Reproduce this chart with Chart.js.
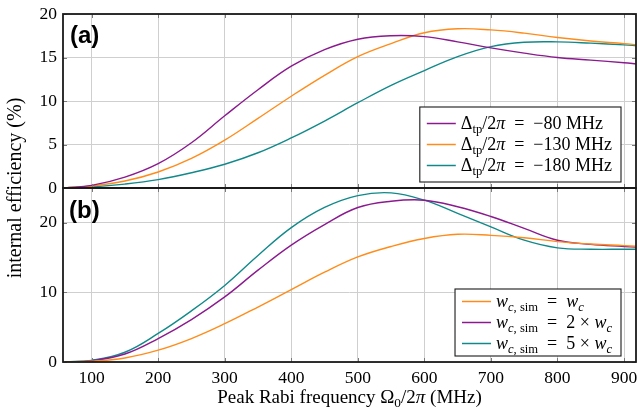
<!DOCTYPE html>
<html><head><meta charset="utf-8">
<script src="https://cdn.jsdelivr.net/npm/chart.js@4.4.1/dist/chart.umd.min.js"></script>
<style>html,body{margin:0;padding:0;background:#fff}#wrap{width:637px;height:410px}</style>
</head><body><div id="wrap"><canvas id="c" width="637" height="410"></canvas></div>
<script>
// ---------- data ----------
const freq = [60,100,150,200,250,300,350,400,450,500,550,600,650,700,750,800,850,900,920];
// panel (a): internal efficiency (%) for different detunings
const effA_80  = [0.02,0.30,1.25,2.80,5.20,8.30,11.30,14.00,15.90,17.10,17.50,17.40,16.80,16.10,15.50,15.00,14.70,14.40,14.25];
const effA_130 = [0.02,0.23,0.80,1.84,3.40,5.50,8.00,10.55,12.95,15.10,16.60,17.85,18.30,18.17,17.80,17.30,16.90,16.60,16.45];
const effA_180 = [0.01,0.12,0.45,0.96,1.75,2.73,4.05,5.76,7.70,9.80,11.80,13.50,15.10,16.25,16.75,16.80,16.65,16.45,16.35];
// panel (b): internal efficiency (%) for different simulated widths
const effB_1x  = [0.02,0.10,0.58,1.70,3.37,5.50,7.90,10.40,12.90,15.10,16.60,17.75,18.35,18.20,17.85,17.30,16.95,16.72,16.62];
const effB_2x  = [0.02,0.20,1.15,3.37,6.10,9.35,13.20,16.80,19.75,22.20,23.10,23.25,22.30,20.90,19.20,17.50,16.90,16.60,16.50];
const effB_5x  = [0.02,0.24,1.40,4.10,7.35,11.00,15.30,19.30,22.20,23.90,24.30,23.25,21.35,19.40,17.50,16.40,16.20,16.20,16.20];

const xTicks  = [100,200,300,400,500,600,700,800,900];
const yTicksA = [0,5,10,15,20];
const yTicksB = [0,10,20];
const xRange  = [57,918];
const yRangeA = [0,20];
const yRangeB = [0,25];

const namesA  = ['Δtp/2π = −80 MHz','Δtp/2π = −130 MHz','Δtp/2π = −180 MHz'];
const legendA = ['Δ_{tp}/2*π*\u2002=\u2002−80 MHz','Δ_{tp}/2*π*\u2002=\u2002−130 MHz','Δ_{tp}/2*π*\u2002=\u2002−180 MHz'];
const namesB  = ['w_c,sim = w_c','w_c,sim = 2 × w_c','w_c,sim = 5 × w_c'];
const legendB = ['*w*_{*c*, sim}\u2002=\u2002*w*_{*c*}','*w*_{*c*, sim}\u2002=\u20022 × *w*_{*c*}','*w*_{*c*, sim}\u2002=\u20025 × *w*_{*c*}'];
const xTitle = 'Peak Rabi frequency Ω_{0}/2*π* (MHz)';
const yTitle = 'internal efficiency (%)';
const panelLabels = ['(a)','(b)'];

// ---------- styles ----------
const PURPLE = '#8a1a8e', ORANGE = '#ff8c1a', TEAL = '#11898a';
const SERIF = '"Liberation Serif", "Times New Roman", serif';
const TICK_SIZE = 17.5;

function xy(arr){ return freq.map((x,i)=>({x, y: arr[i]})); }
function ds(label, arr, color, axis){
  return {label, data: xy(arr), yAxisID: axis, borderColor: color, backgroundColor: color,
    borderWidth: 1.4, pointRadius: 0, fill: false, tension: 0.4};
}

function parseRich(s){
  const out=[]; let it=false, sub=false, buf='';
  const push=()=>{ if(buf){ out.push({t:buf,it,sub}); buf=''; } };
  for(let i=0;i<s.length;i++){
    const ch=s[i];
    if(ch==='*'){ push(); it=!it; }
    else if(ch==='_' && s[i+1]==='{'){ push(); sub=true; i++; }
    else if(ch==='}' && sub){ push(); sub=false; }
    else buf+=ch;
  }
  push(); return out;
}
function segFont(seg,size){ return (seg.it?'italic ':'') + (seg.sub? (size*0.7).toFixed(1) : size) + 'px ' + SERIF; }
function richWidth(ctx,str,size){
  let w=0; for(const seg of parseRich(str)){ ctx.font=segFont(seg,size); w+=ctx.measureText(seg.t).width; } return w;
}
function drawRich(ctx,str,x,y,size){
  ctx.textAlign='left'; ctx.textBaseline='alphabetic'; ctx.fillStyle='#000';
  for(const seg of parseRich(str)){
    ctx.font=segFont(seg,size);
    ctx.fillText(seg.t, x, y + (seg.sub? size*0.22 : 0));
    x += ctx.measureText(seg.t).width;
  }
}

const decor = {
  id: 'decor',
  afterDraw(chart){
    const ctx = chart.ctx, area = chart.chartArea;
    const sx = chart.scales.x, sa = chart.scales.yA, sb = chart.scales.yB;
    const panels = [
      {top: sa.top, bottom: sa.bottom, scale: sa, ticks: yTicksA, legend: legendA, colors:[PURPLE,ORANGE,TEAL], pad: 6},
      {top: sb.top, bottom: sb.bottom, scale: sb, ticks: yTicksB, legend: legendB, colors:[ORANGE,PURPLE,TEAL], pad: 2}
    ];
    ctx.save();
    // inward tick marks
    ctx.strokeStyle = '#7a7a7a'; ctx.lineWidth = 1;
    for(const p of panels){
      for(const v of xTicks){
        const px = Math.round(sx.getPixelForValue(v)) + 0.5;
        ctx.beginPath(); ctx.moveTo(px, p.top); ctx.lineTo(px, p.top+4);
        ctx.moveTo(px, p.bottom); ctx.lineTo(px, p.bottom-4); ctx.stroke();
      }
      for(const v of p.ticks){
        const py = Math.round(p.scale.getPixelForValue(v)) + 0.5;
        ctx.beginPath(); ctx.moveTo(area.left, py); ctx.lineTo(area.left+4, py);
        ctx.moveTo(area.right, py); ctx.lineTo(area.right-4, py); ctx.stroke();
      }
    }
    // frames
    ctx.strokeStyle = '#1a1a1a'; ctx.lineWidth = 1.8;
    for(const p of panels){ ctx.strokeRect(area.left, p.top, area.right-area.left, p.bottom-p.top); }
    // panel labels
    ctx.fillStyle = '#000'; ctx.font = 'bold 24px "Liberation Sans", Arial, sans-serif';
    ctx.textAlign = 'left'; ctx.textBaseline = 'middle';
    ctx.fillText(panelLabels[0], area.left + 7, panels[0].top + 22);
    ctx.fillText(panelLabels[1], area.left + 6, panels[1].top + 23);
    // legends
    const LS = 18, ROW = 21;
    panels.forEach((p) => {
      let w = 0; for(const s of p.legend) w = Math.max(w, richWidth(ctx, s, LS));
      const bw = 7 + 29 + 5 + w + 9, bh = p.legend.length*ROW + 2*p.pad;
      const right = area.right - 15, bottom = p.bottom - 6;
      const left = right - bw, top = bottom - bh;
      ctx.fillStyle = '#fff'; ctx.fillRect(left, top, bw, bh);
      ctx.strokeStyle = '#1a1a1a'; ctx.lineWidth = 1.1; ctx.strokeRect(left, top, bw, bh);
      p.legend.forEach((s, i) => {
        const cy = top + p.pad + ROW/2 + i*ROW;
        ctx.strokeStyle = p.colors[i]; ctx.lineWidth = 1.5;
        ctx.beginPath(); ctx.moveTo(left+7, cy); ctx.lineTo(left+36, cy); ctx.stroke();
        drawRich(ctx, s, left+41, cy + 5.5, LS);
      });
    });
    // axis titles
    const TS = 19;
    const tw = richWidth(ctx, xTitle, TS);
    drawRich(ctx, xTitle, (area.left+area.right)/2 - tw/2, 403, TS);
    ctx.save();
    ctx.translate(16, (area.top+area.bottom)/2);
    ctx.rotate(-Math.PI/2);
    ctx.font = '20px ' + SERIF; ctx.fillStyle = '#000';
    ctx.textAlign = 'center'; ctx.textBaseline = 'middle';
    ctx.fillText(yTitle, 0, 0);
    ctx.restore();
    ctx.restore();
  }
};

function keep(list){ return s => { s.ticks = list.map(v => ({value: v})); }; }
const tickFont = {family: SERIF, size: TICK_SIZE};
const gridOpt = {color: '#cfcfcf', lineWidth: 1, drawTicks: false};

new Chart(document.getElementById('c'), {
  type: 'line',
  data: { datasets: [
    ds(namesA[0], effA_80,  PURPLE, 'yA'),
    ds(namesA[1], effA_130, ORANGE, 'yA'),
    ds(namesA[2], effA_180, TEAL,   'yA'),
    ds(namesB[0], effB_1x,  ORANGE, 'yB'),
    ds(namesB[1], effB_2x,  PURPLE, 'yB'),
    ds(namesB[2], effB_5x,  TEAL,   'yB')
  ]},
  options: {
    responsive: false, animation: false, devicePixelRatio: 1,
    layout: {padding: {top: 14, right: 1, left: 0, bottom: 0}},
    plugins: {legend: {display: false}, tooltip: {enabled: false}},
    scales: {
      x: {type: 'linear', min: xRange[0], max: xRange[1], afterBuildTicks: keep(xTicks),
          grid: gridOpt, border: {display: false},
          ticks: {font: tickFont, color: '#000', padding: 6, maxRotation: 0, autoSkip: false},
          afterFit: s => { s.height = 48; s.paddingLeft = 0; s.paddingRight = 0; }},
      yB: {type: 'linear', position: 'left', stack: 'v', stackWeight: 1, min: yRangeB[0], max: yRangeB[1],
          afterBuildTicks: keep(yTicksB), grid: gridOpt, border: {display: false},
          ticks: {font: tickFont, color: '#000', padding: 6, autoSkip: false},
          afterFit: s => { s.width = 63; s.paddingTop = 0; s.paddingBottom = 0; }},
      yA: {type: 'linear', position: 'left', stack: 'v', stackWeight: 1, min: yRangeA[0], max: yRangeA[1],
          afterBuildTicks: keep(yTicksA), grid: gridOpt, border: {display: false},
          ticks: {font: tickFont, color: '#000', padding: 6, autoSkip: false},
          afterFit: s => { s.width = 63; s.paddingTop = 0; s.paddingBottom = 0; }}
    }
  },
  plugins: [decor]
});
</script></body></html>
